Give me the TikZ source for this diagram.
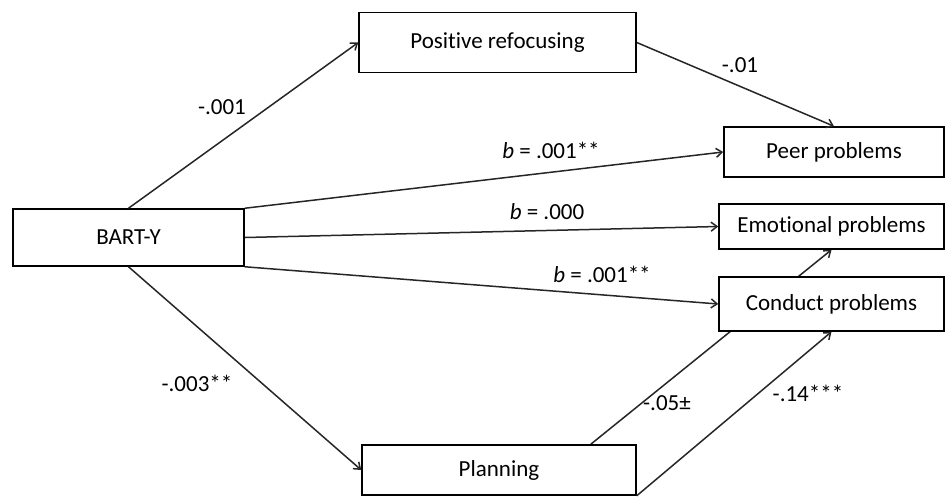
\documentclass[tikz,border=0pt]{standalone}
\usepackage{fontspec}
\setmainfont[Ligatures=NoCommon]{Carlito}
\usetikzlibrary{arrows.meta,backgrounds}
\begin{document}
\begin{tikzpicture}[x=1pt,y=-1pt,
  every node/.style={font=\fontsize{23}{27}\selectfont, inner sep=0pt},
  var/.style={draw=black, line width=1.5pt, fill=white, minimum width=#1},
  path/.style={draw=black!85, line width=1.5pt, -{Straight Barb[length=6pt,width=9pt]}},
  coef/.style={text=black}]
\useasboundingbox (0,0) rectangle (945,496);

% variables
\node[var=277pt, minimum height=60pt] (pos)  at (497.5,42.5) {Positive refocusing};
\node[var=220pt, minimum height=50pt] (peer) at (834,152)    {Peer problems};
\node[var=225pt, minimum height=45pt] (emo)  at (831.5,226.5){Emotional problems};
\node[var=225pt, minimum height=54pt] (cond) at (831.5,304)  {Conduct problems};
\node[var=231pt, minimum height=57pt] (bart) at (128.5,237.5){BART-Y};
\node[var=274pt, minimum height=50pt] (plan) at (499,470)    {Planning};

% paths
\draw[path] (bart.north) -- (pos.west);
\draw[path] (pos.east) -- (peer.north);
\draw[path] (bart.north east) -- (peer.west);
\draw[path] (bart.east) -- (emo.west);
\draw[path] (bart.south east) -- (cond.west);
\draw[path] (bart.south) -- (plan.west);
% this path runs behind the Conduct problems box
\begin{scope}[on background layer]
  \draw[path] ([xshift=-46pt]plan.north east) -- (emo.south);
\end{scope}
\draw[path] (plan.south east) -- (cond.south);

% coefficients
\node[coef] (c1) at (222,107) {-.001};
\node[coef] (c2) at (740,65)  {-.01};
\node[coef] (c3) at (551,150) {\textit{b} = .001**};
\node[coef] (c4) at (547,212) {\textit{b} = .000};
\node[coef] (c5) at (602,274) {\textit{b} = .001**};
\node[coef] (c6) at (197,383) {-.003**};
\node[coef] (c7) at (667,403) {-.05±};
\node[coef] (c8) at (808,393) {-.14***};
\end{tikzpicture}
\end{document}
